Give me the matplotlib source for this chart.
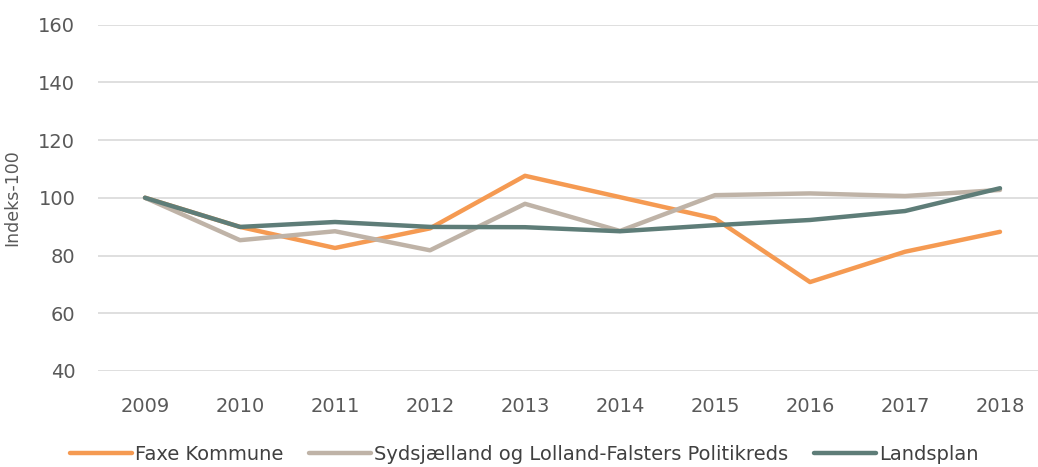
import matplotlib.pyplot as plt

years = ["2009", "2010", "2011", "2012", "2013", "2014", "2015", "2016", "2017", "2018"]
faxe = [100, 89.9, 82.6, 89.4, 107.6, 100.2, 92.8, 70.8, 81.3, 88.2]
sydsjaelland = [100, 85.3, 88.4, 81.8, 97.9, 88.5, 100.9, 101.5, 100.6, 102.7]
landsplan = [100, 89.9, 91.6, 89.9, 89.8, 88.4, 90.5, 92.3, 95.4, 103.3]

series = [
    ("Faxe Kommune", faxe, "#F59A52"),
    ("Sydsjælland og Lolland-Falsters Politikreds", sydsjaelland, "#BFB3A7"),
    ("Landsplan", landsplan, "#5E7D78"),
]

plt.rcParams["font.family"] = ["DejaVu Sans"]

fig = plt.figure(figsize=(10.38, 4.67), dpi=100)
ax = fig.add_axes([97.5 / 1038, 1 - 371 / 467, 950 / 1038, (371 - 24.5) / 467])

x = range(len(years))
for label, values, color in series:
    ax.plot(x, values, color=color, linewidth=3.2, solid_capstyle="round",
            solid_joinstyle="round", label=label, zorder=3)

ax.set_xlim(-0.5, len(years) - 0.5)
ax.set_ylim(40, 160)
ax.set_yticks(range(40, 161, 20))
ax.set_xticks(list(x))
ax.set_xticklabels(years)
ax.grid(axis="y", color="#D9D9D9", linewidth=1.2)
ax.set_axisbelow(True)
for spine in ax.spines.values():
    spine.set_visible(False)
ax.tick_params(axis="both", length=0, colors="#595959", labelsize=14)
ax.tick_params(axis="y", pad=16)
ax.tick_params(axis="x", pad=19)
ax.set_ylabel("Indeks-100", fontsize=12.5, color="#595959")
ax.yaxis.set_label_coords(-76 / 950, 0.5)

fig.legend(loc="lower center", bbox_to_anchor=(0.505, -0.03), ncol=3, frameon=False,
           fontsize=14, handlelength=3.2, handletextpad=0.15, columnspacing=1.3,
           labelcolor="#404040")

fig.savefig("out.png", dpi=100, facecolor="white")
